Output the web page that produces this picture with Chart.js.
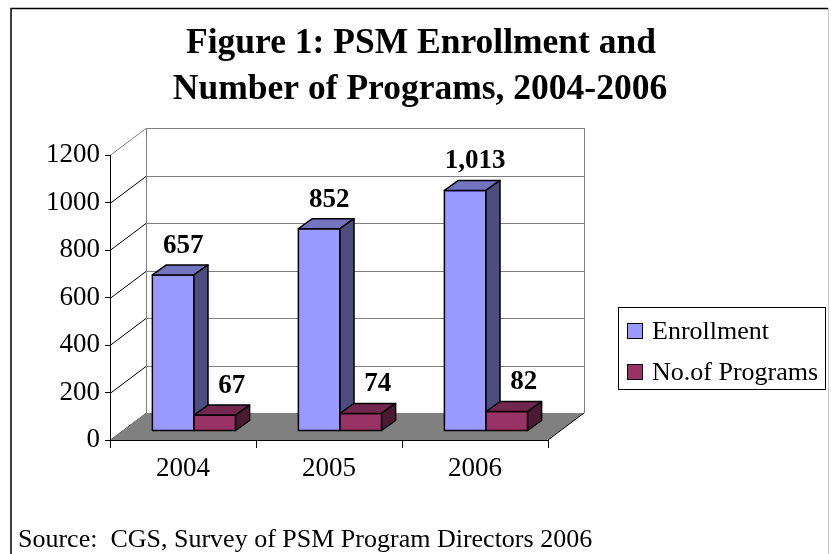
<!DOCTYPE html>
<html>
<head>
<meta charset="utf-8">
<script src="https://cdn.jsdelivr.net/npm/chart.js@4"></script>
<style>
  html, body { margin: 0; padding: 0; background: #fff; }
  #wrap { width: 831px; height: 554px; }
</style>
</head>
<body>
<div id="wrap"><canvas id="chart" width="831" height="554"></canvas></div>
<script>
const years = ['2004', '2005', '2006'];
const enrollment = [657, 852, 1013];
const programs = [67, 74, 82];
const yMin = 0;
const yMax = 1200;
const yStep = 200;

const titleLines = ['Figure 1: PSM Enrollment and', 'Number of Programs, 2004-2006'];
const sourceText = 'Source:  CGS, Survey of PSM Program Directors 2006';

const SERIF = '"Liberation Serif", "Times New Roman", serif';

// 3d look: back wall offset, bar offset into the depth, bar depth
const WALL = { dx: 36, dy: -27 };
const BAR_OFF = { dx: 11, dy: -9 };
const DEPTH = { dx: 14, dy: -10 };

const faces = [
    { front: '#9999FF', top: '#7373BF', side: '#4D4D80' },
    { front: '#993366', top: '#732650', side: '#4D1A33' }
];

function poly(ctx, pts, fill, stroke) {
    ctx.beginPath();
    ctx.moveTo(pts[0][0], pts[0][1]);
    for (let i = 1; i < pts.length; i++) ctx.lineTo(pts[i][0], pts[i][1]);
    ctx.closePath();
    if (fill) { ctx.fillStyle = fill; ctx.fill(); }
    if (stroke) { ctx.strokeStyle = stroke; ctx.stroke(); }
}

const frame3d = {
    id: 'frame3d',
    beforeDraw(chart) {
        const { ctx, chartArea: a, scales: { y } } = chart;
        ctx.save();

        // outer frame
        ctx.lineWidth = 1.5;
        ctx.strokeStyle = '#000';
        ctx.beginPath();
        ctx.moveTo(11, 560); ctx.lineTo(11, 8.5); ctx.lineTo(828, 8.5);
        ctx.stroke();
        ctx.strokeStyle = '#c8c8c8';
        ctx.lineWidth = 1;
        ctx.beginPath();
        ctx.moveTo(828.5, 8); ctx.lineTo(828.5, 560);
        ctx.stroke();

        // title
        ctx.fillStyle = '#000';
        ctx.font = 'bold 35.5px ' + SERIF;
        ctx.textAlign = 'center';
        ctx.textBaseline = 'middle';
        ctx.fillText(titleLines[0], 421, 44);
        ctx.fillText(titleLines[1], 420, 90);

        // walls
        const bl = a.left + WALL.dx, br = a.right + WALL.dx;
        const top = y.getPixelForValue(yMax), bot = y.getPixelForValue(yMin);
        ctx.lineWidth = 1;
        y.ticks.forEach(t => {
            const py = Math.round(y.getPixelForValue(t.value)) + 0.5;
            ctx.strokeStyle = '#808080';
            ctx.beginPath();
            ctx.moveTo(bl, py + WALL.dy); ctx.lineTo(br, py + WALL.dy);
            ctx.stroke();
            ctx.strokeStyle = t.value === yMax ? '#808080' : '#000';
            ctx.beginPath();
            ctx.moveTo(a.left, py); ctx.lineTo(bl, py + WALL.dy);
            ctx.stroke();
        });
        ctx.strokeStyle = '#808080';
        ctx.beginPath();
        ctx.moveTo(Math.round(bl) + 0.5, top + WALL.dy); ctx.lineTo(Math.round(bl) + 0.5, bot + WALL.dy);
        ctx.moveTo(Math.round(br) + 0.5, top + WALL.dy); ctx.lineTo(Math.round(br) + 0.5, bot + WALL.dy);
        ctx.stroke();

        // floor
        poly(ctx, [[a.left, bot], [a.right, bot], [br, bot + WALL.dy], [bl, bot + WALL.dy]], '#808080');
        ctx.strokeStyle = '#000';
        ctx.beginPath();
        ctx.moveTo(a.right, bot); ctx.lineTo(br, bot + WALL.dy);
        ctx.stroke();

        ctx.restore();
    },
    beforeDatasetsDraw(chart) {
        const { ctx } = chart;
        ctx.save();
        ctx.lineWidth = 1.5;
        ctx.lineJoin = 'round';
        years.forEach((yr, i) => {
            chart.data.datasets.forEach((ds, d) => {
                const el = chart.getDatasetMeta(d).data[i];
                const f = faces[d];
                const l = el.x - el.width / 2 + BAR_OFF.dx;
                const r = el.x + el.width / 2 + BAR_OFF.dx;
                const t = el.y + BAR_OFF.dy;
                const b = el.base + BAR_OFF.dy;
                poly(ctx, [[l, t], [r, t], [r, b], [l, b]], f.front, '#000');
                poly(ctx, [[l, t], [l + DEPTH.dx, t + DEPTH.dy], [r + DEPTH.dx, t + DEPTH.dy], [r, t]], f.top, '#000');
                poly(ctx, [[r, t], [r + DEPTH.dx, t + DEPTH.dy], [r + DEPTH.dx, b + DEPTH.dy], [r, b]], f.side, '#000');

                ctx.fillStyle = '#000';
                ctx.font = 'bold 27px ' + SERIF;
                ctx.textAlign = 'center';
                ctx.textBaseline = 'middle';
                const shift = d === 0 ? 3 : 10;
                ctx.fillText(ds.data[i].toLocaleString('en-US'),
                    (l + r) / 2 + DEPTH.dx / 2 + shift, t + DEPTH.dy - 19);
            });
        });
        ctx.restore();
        return false;
    },
    afterDraw(chart) {
        const { ctx } = chart;
        ctx.save();
        // legend
        ctx.lineWidth = 1;
        ctx.strokeStyle = '#000';
        ctx.strokeRect(618.5, 307.5, 207, 82);
        ctx.font = '26px ' + SERIF;
        ctx.textAlign = 'left';
        ctx.textBaseline = 'middle';
        chart.data.datasets.forEach((ds, d) => {
            const cy = 332 + d * 41;
            ctx.fillStyle = ds.backgroundColor;
            ctx.fillRect(627.5, cy - 8.5, 15, 15);
            ctx.strokeRect(627.5, cy - 8.5, 15, 15);
            ctx.fillStyle = '#000';
            ctx.fillText(ds.label, 652, cy);
        });
        // source note
        ctx.font = '26px ' + SERIF;
        ctx.fillText(sourceText, 18, 540);
        ctx.restore();
    }
};

new Chart(document.getElementById('chart'), {
    type: 'bar',
    data: {
        labels: years,
        datasets: [
            { label: 'Enrollment', data: enrollment, backgroundColor: faces[0].front },
            { label: 'No.of Programs', data: programs, backgroundColor: faces[1].front }
        ]
    },
    options: {
        responsive: false,
        animation: false,
        datasets: { bar: { categoryPercentage: 0.57, barPercentage: 1 } },
        layout: { padding: { left: 10, right: 283, top: 155, bottom: 0 } },
        plugins: {
            legend: { display: false },
            title: { display: false },
            tooltip: { enabled: false }
        },
        scales: {
            x: {
                afterFit: s => { s.height = 114; },
                grid: { display: true, drawOnChartArea: false, tickLength: 8, color: '#000', offset: true },
                border: { display: true, color: '#000', width: 1 },
                ticks: { color: '#000', font: { family: SERIF, size: 27 }, padding: 5 }
            },
            y: {
                min: yMin,
                max: yMax,
                afterFit: s => { s.width = 100; },
                grid: { display: true, drawOnChartArea: false, tickLength: 5, color: '#000' },
                border: { display: true, color: '#000', width: 1 },
                ticks: {
                    stepSize: yStep,
                    color: '#000',
                    font: { family: SERIF, size: 27 },
                    padding: 5,
                    callback: v => String(v)
                }
            }
        }
    },
    plugins: [frame3d]
});
</script>
</body>
</html>
